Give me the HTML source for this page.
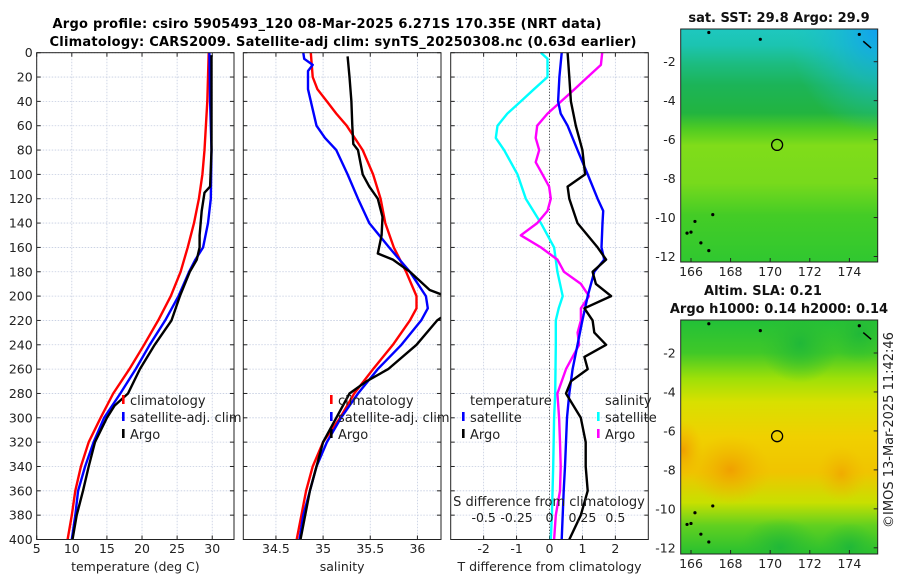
<!DOCTYPE html>
<html><head><meta charset="utf-8"><style>
html,body{margin:0;padding:0;background:#fff;}
svg{display:block;font-family:"DejaVu Sans","Liberation Sans",sans-serif;}
</style></head><body>
<svg id="fig" width="900" height="580" viewBox="0 0 900 580" xmlns="http://www.w3.org/2000/svg">
<defs>
<linearGradient id="sstg" x1="0" y1="0" x2="0" y2="1">
<stop offset="0" stop-color="#1ec8c0"/><stop offset="0.07" stop-color="#1cc4b0"/>
<stop offset="0.15" stop-color="#1cbc80"/><stop offset="0.24" stop-color="#1cb458"/>
<stop offset="0.36" stop-color="#22b440"/><stop offset="0.43" stop-color="#50cc22"/>
<stop offset="0.5" stop-color="#80dc1a"/><stop offset="0.66" stop-color="#78da1c"/>
<stop offset="0.8" stop-color="#44cc26"/><stop offset="1" stop-color="#30c830"/></linearGradient>
<radialGradient id="sstblue" cx="1" cy="0" r="0.45"><stop offset="0" stop-color="#10a0f0"/><stop offset="0.5" stop-color="#18b8d8" stop-opacity="0.6"/><stop offset="1" stop-color="#1cc4c0" stop-opacity="0"/></radialGradient>
<linearGradient id="slag" x1="0" y1="0" x2="0" y2="1">
<stop offset="0" stop-color="#22c038"/><stop offset="0.14" stop-color="#40c828"/>
<stop offset="0.25" stop-color="#9ee008"/><stop offset="0.35" stop-color="#d8e000"/>
<stop offset="0.5" stop-color="#f0d000"/><stop offset="0.65" stop-color="#f0c400"/>
<stop offset="0.78" stop-color="#c8e000"/><stop offset="0.88" stop-color="#60d020"/>
<stop offset="1" stop-color="#28c030"/></linearGradient>
<radialGradient id="orange"><stop offset="0" stop-color="#f0a000"/><stop offset="1" stop-color="#f0b800" stop-opacity="0"/></radialGradient>
<radialGradient id="greenb"><stop offset="0" stop-color="#20b838"/><stop offset="1" stop-color="#30c030" stop-opacity="0"/></radialGradient>
<clipPath id="c2"><rect x="243.3" y="52.7" width="197.7" height="486.8"/></clipPath>
<clipPath id="cm1"><rect x="680.7" y="29" width="197" height="233"/></clipPath>
<clipPath id="cm2"><rect x="680.7" y="320" width="197" height="234"/></clipPath>
</defs>
<g id="titles">
<text x="327" y="28" font-size="13" font-weight="bold" text-anchor="middle" textLength="549">Argo profile: csiro 5905493_120 08-Mar-2025 6.271S 170.35E (NRT data)</text>
<text x="343" y="46" font-size="13" font-weight="bold" text-anchor="middle" textLength="587">Climatology: CARS2009. Satellite-adj clim: synTS_20250308.nc (0.63d earlier)</text>
</g>
<g id="panels"></g>
<g id="maps"></g>
<text transform="translate(893,430) rotate(-90)" font-size="13" text-anchor="middle" fill="#222">©IMOS 13-Mar-2025 11:42:46</text>
</svg>
<script>
// ---- data ----
const depths = [0,20,40,60,80,100,120,140,160,180,200,220,240,260,280,300,320,340,360,380,400];
const tempClim = [29.5,29.4,29.3,29.1,28.9,28.6,28.1,27.4,26.5,25.5,24.1,22.3,20.3,18.2,15.9,14.1,12.4,11.3,10.5,10.0,9.4];
const tempSatDepths = [0,40,80,120,140,160,170,180,200,220,240,260,280,300,320,340,360,380,400];
const tempSat = [29.6,29.7,29.9,29.8,29.4,28.7,27.6,26.7,25.2,23.3,21.1,19.1,16.9,14.6,13.1,11.9,10.9,10.5,10.0];
const tempArgoDepths = [2,80,110,115,130,150,160,170,180,200,215,220,240,260,280,290,300,320,340,360,380,400];
const tempArgo = [29.9,29.9,29.7,28.9,28.5,28.2,28.2,27.8,26.8,25.4,24.5,24.2,21.8,19.7,18.0,16.1,15.0,13.3,12.4,11.6,10.7,10.1];
const salClimDepths = [0,20,30,40,50,60,80,100,120,140,160,180,200,210,220,240,260,280,300,320,340,360,380,400];
const salClim = [34.87,34.89,34.94,35.04,35.14,35.25,35.42,35.53,35.61,35.66,35.75,35.88,35.99,35.99,35.92,35.74,35.53,35.33,35.18,35.0,34.89,34.82,34.77,34.72];
const salSatDepths = [0,5,10,15,30,60,70,80,100,120,140,160,180,200,210,220,240,260,280,300,320,340,360,380,400];
const salSat = [34.79,34.80,34.89,34.84,34.84,34.93,35.02,35.14,35.26,35.37,35.49,35.70,35.92,36.09,36.11,36.04,35.83,35.58,35.37,35.19,35.04,34.93,34.86,34.79,34.75];
const salArgoDepths = [3,20,40,60,75,80,100,110,120,135,150,165,170,180,195,200,215,220,240,260,270,280,300,320,340,360,380,400];
const salArgo = [35.26,35.28,35.30,35.31,35.32,35.37,35.42,35.49,35.58,35.63,35.62,35.58,35.74,35.92,36.13,36.3,36.3,36.21,35.99,35.69,35.46,35.28,35.14,35.0,34.93,34.86,34.81,34.76];
const dTSatDepths = [0,20,40,50,60,80,100,120,130,140,160,170,180,200,220,240,260,280,300,320,340,360,380,400];
const dTSat = [0.37,0.3,0.26,0.34,0.55,0.85,1.16,1.46,1.63,1.61,1.58,1.66,1.36,1.16,1.0,0.85,0.7,0.6,0.53,0.5,0.47,0.43,0.4,0.37];
const dTArgoDepths = [0,20,40,60,80,100,110,120,140,160,170,180,190,200,210,220,230,240,250,260,270,280,300,320,340,360,380,400];
const dTArgo = [0.55,0.6,0.65,0.8,1.0,1.08,0.55,0.6,0.85,1.46,1.72,1.31,1.41,1.87,1.06,1.31,1.36,1.72,1.06,1.16,0.65,0.5,0.95,1.1,1.1,1.16,0.95,0.6];
const dSSatDepths = [0,5,20,30,40,50,60,70,80,100,120,140,160,180,200,210,220,240,280,300,340,380,400];
const dSSat = [-0.065,-0.015,-0.015,-0.118,-0.218,-0.32,-0.395,-0.408,-0.345,-0.243,-0.18,-0.065,0.035,0.06,0.1,0.07,0.048,0.048,0.043,0.035,0.028,0.018,0.01];
const dSArgoDepths = [0,10,20,30,40,50,60,70,80,90,100,110,120,130,140,150,160,170,180,190,200,210,220,230,240,260,280,300,320,340,360,380,400];
const dSArgo = [0.4,0.39,0.29,0.19,0.088,-0.015,-0.093,-0.105,-0.078,-0.105,-0.053,-0.003,0.01,-0.015,-0.093,-0.218,-0.065,0.06,0.11,0.238,0.3,0.238,0.238,0.213,0.225,0.125,0.06,0.073,0.08,0.085,0.08,0.048,0.035];
const depthTicks = [0,20,40,60,80,100,120,140,160,180,200,220,240,260,280,300,320,340,360,380,400];
const tempTicks = [5,10,15,20,25,30];
const salTicks = [34.5,35,35.5,36];
const dTTicks = [-2,-1,0,1,2];
const dSTickLabels = ['-0.5','-0.25','0','0.25','0.5'];
const dSTicks = [-0.5,-0.25,0,0.25,0.5];
const lonTicks = [166,168,170,172,174];
const latTicks = [-2,-4,-6,-8,-10,-12];
const argoLon = 170.35, argoLat = -6.271;

const NS='http://www.w3.org/2000/svg';
function mk(tag,attrs,parent,txt){const e=document.createElementNS(NS,tag);for(const k in attrs)e.setAttribute(k,attrs[k]);if(txt!==undefined)e.textContent=txt;parent.appendChild(e);return e;}
const top0=52.7, bot0=539.5;
const yD = d => top0 + d/400*(bot0-top0);
const panelsG=document.getElementById('panels');

function panel(name,x0,x1,vmin,vmax,ticks,tickLabels,xlabel,showY){
  const g=mk('g',{},panelsG);
  
  
  const sx=v=>x0+(v-vmin)/(vmax-vmin)*(x1-x0);
  depthTicks.forEach(d=>{
    const l=mk('line',{x1:x0,x2:x1,y1:yD(d),y2:yD(d),stroke:'#c4cce0','stroke-width':0.8,'stroke-dasharray':'1.5,1.5'},g);
    
    
    mk('line',{x1:x0,x2:x0+4,y1:yD(d),y2:yD(d),stroke:'#222'},g);
    mk('line',{x1:x1-4,x2:x1,y1:yD(d),y2:yD(d),stroke:'#222'},g);
    if(showY){const t=mk('text',{x:x0-4,y:yD(d)+4.5,'font-size':12.5,'text-anchor':'end',fill:'#222'},g,String(d));
      
      }
  });
  ticks.forEach((v,i)=>{
    const l=mk('line',{x1:sx(v),x2:sx(v),y1:top0,y2:bot0,stroke:'#c4cce0','stroke-width':0.8,'stroke-dasharray':'1.5,1.5'},g);
    
    
    mk('line',{x1:sx(v),x2:sx(v),y1:bot0-4,y2:bot0,stroke:'#222'},g);
    mk('line',{x1:sx(v),x2:sx(v),y1:top0,y2:top0+4,stroke:'#222'},g);
    const t=mk('text',{x:sx(v),y:553,'font-size':12.5,'text-anchor':'middle',fill:'#222'},g,tickLabels[i]);
    
    
  });
  const xl=mk('text',{x:(x0+x1)/2,y:571,'font-size':12.5,'text-anchor':'middle',fill:'#222'},g,xlabel);
  
  
  return {g,sx};
}
function line(p,ds,vs,color,name,scale){
  const pts=ds.map((d,i)=>p.sx(vs[i]*(scale||1)).toFixed(1)+','+yD(d).toFixed(1)).join(' ');
  const pl=mk('polyline',{points:pts,fill:'none',stroke:color,'stroke-width':2.4,'stroke-linejoin':'round'},p.g);
  
  
  return pl;
}
function frame(p,x0,x1){mk('rect',{x:x0,y:top0,width:x1-x0,height:bot0-top0,fill:'none',stroke:'#222','stroke-width':1},p.g);}
function legendEntry(g,x,y,color,label){
  const e=mk('g',{},g);
  
  
  mk('rect',{x:x,y:y-10,width:2.6,height:9,fill:color},e);
  mk('text',{x:x+8,y:y,'font-size':13,fill:'#222'},e,label);
}

// panel 1: temperature
const p1=panel('temperature-panel',36.7,234,5,33.1,tempTicks,tempTicks.map(String),'temperature (deg C)',true);
line(p1,depths,tempClim,'#f00','climatology-temp-line');
line(p1,tempSatDepths,tempSat,'#00f','satellite-temp-line');
line(p1,tempArgoDepths,tempArgo,'#000','argo-temp-line');
frame(p1,36.7,234);
legendEntry(p1.g,122,405,'#f00','climatology');
legendEntry(p1.g,122,422,'#00f','satellite-adj. clim');
legendEntry(p1.g,122,439,'#000','Argo');

// panel 2: salinity
const p2=panel('salinity-panel',243.3,441,34.154,36.25,salTicks,salTicks.map(String),'salinity',false);
line(p2,salClimDepths,salClim,'#f00','climatology-sal-line');
line(p2,salSatDepths,salSat,'#00f','satellite-sal-line');
line(p2,salArgoDepths,salArgo,'#000','argo-sal-line').setAttribute('clip-path','url(#c2)');
frame(p2,243.3,441);
legendEntry(p2.g,330,405,'#f00','climatology');
legendEntry(p2.g,330,422,'#00f','satellite-adj. clim');
legendEntry(p2.g,330,439,'#000','Argo');

// panel 3: differences
const p3=panel('difference-panel',450.7,648.3,-3,3,dTTicks,dTTicks.map(String),'T difference from climatology',false);
mk('line',{x1:p3.sx(0),x2:p3.sx(0),y1:top0,y2:bot0,stroke:'#333','stroke-width':1,'stroke-dasharray':'1,2'},p3.g);
line(p3,dSSatDepths,dSSat,'#00ffff','satellite-sal-diff-line',4);
line(p3,dSArgoDepths,dSArgo,'#ff00ff','argo-sal-diff-line',4);
line(p3,dTSatDepths,dTSat,'#00f','satellite-temp-diff-line');
line(p3,dTArgoDepths,dTArgo,'#000','argo-temp-diff-line');
frame(p3,450.7,648.3);
(function(){
  const g=p3.g;
  let t=mk('text',{x:470,y:405,'font-size':13,fill:'#222'},g,'temperature');
  
  
  t=mk('text',{x:605,y:405,'font-size':13,fill:'#222'},g,'salinity');
  
  
  legendEntry(g,462,422,'#00f','satellite');
  legendEntry(g,462,439,'#000','Argo');
  legendEntry(g,597,422,'#00ffff','satellite');
  legendEntry(g,597,439,'#ff00ff','Argo');
  t=mk('text',{x:549,y:506,'font-size':13,'text-anchor':'middle',fill:'#222'},g,'S difference from climatology');
  
  
  dSTicks.forEach((v,i)=>{
    const s=mk('text',{x:p3.sx(v*4),y:522,'font-size':12.5,'text-anchor':'middle',fill:'#222'},g,dSTickLabels[i]);
    
    
  });
})();

// maps
const mapsG=document.getElementById('maps');
const mx0=680.7,mx1=877.7,lon0=165.48,lon1=175.43;
const sxL=l=>mx0+(l-lon0)/(lon1-lon0)*(mx1-mx0);
function map(name,y0,y1,lat2y,fill,clip,extras,titles){
  const g=mk('g',{},mapsG);
  
  
  const syL=lat=>lat2y+(-2-lat)*19.48;
  const inner=mk('g',{'clip-path':'url(#'+clip+')'},g);
  mk('rect',{x:mx0,y:y0,width:mx1-mx0,height:y1-y0,fill:fill},inner);
  extras(inner,syL);
  mk('circle',{cx:sxL(argoLon),cy:syL(argoLat),r:5.5,fill:'none',stroke:'#000','stroke-width':1.3},g);
  [[165.8,-10.8],[166.0,-10.75],[166.5,-11.3],[166.9,-11.7],[167.1,-9.85],[166.2,-10.2],[166.9,-0.5],[169.5,-0.85],[174.5,-0.6]].forEach(p=>mk('circle',{cx:sxL(p[0]),cy:syL(p[1]),r:1.6,fill:'#000'},g));
  mk('line',{x1:sxL(174.7),y1:syL(-0.95),x2:sxL(175.1),y2:syL(-1.3),stroke:'#000','stroke-width':1.5},g);
  mk('rect',{x:mx0,y:y0,width:mx1-mx0,height:y1-y0,fill:'none',stroke:'#222'},g);
  latTicks.forEach(lt=>{
    mk('line',{x1:mx1-4,x2:mx1,y1:syL(lt),y2:syL(lt),stroke:'#222'},g);
    const t=mk('text',{x:mx0-5,y:syL(lt)+4.5,'font-size':12.5,'text-anchor':'end',fill:'#222'},g,String(lt));
    
    
  });
  lonTicks.forEach(ln=>{
    mk('line',{x1:sxL(ln),x2:sxL(ln),y1:y1-4,y2:y1,stroke:'#222'},g);
    const t=mk('text',{x:sxL(ln),y:y1+14,'font-size':12.5,'text-anchor':'middle',fill:'#222'},g,String(ln));
    
    
  });
  titles.forEach(tt=>{
    const t=mk('text',{x:tt[0],y:tt[1],'font-size':13,'font-weight':'bold','text-anchor':'middle',fill:'#111'},g,tt[2]);
    
    
  });
}
map('sst-map',29,262,61.7,'url(#sstg)','cm1',(g,sy)=>{
  mk('rect',{x:mx0,y:29,width:mx1-mx0,height:233,fill:'url(#sstblue)'},g);
},[[779,22,'sat. SST: 29.8 Argo: 29.9']]);
map('sla-map',320,554,353,'url(#slag)','cm2',(g,sy)=>{
  mk('ellipse',{cx:sxL(168),cy:sy(-8),rx:40,ry:35,fill:'url(#orange)'},g);
  mk('ellipse',{cx:sxL(165.6),cy:sy(-7),rx:20,ry:30,fill:'url(#orange)'},g);
  mk('ellipse',{cx:sxL(173.6),cy:sy(-8.2),rx:25,ry:28,fill:'url(#orange)','opacity':0.7},g);
  mk('ellipse',{cx:sxL(171.5),cy:sy(-1.5),rx:40,ry:40,fill:'url(#greenb)'},g);
  mk('ellipse',{cx:sxL(174.5),cy:sy(-1),rx:30,ry:30,fill:'url(#greenb)'},g);
  mk('ellipse',{cx:sxL(170.5),cy:sy(-12),rx:40,ry:30,fill:'url(#greenb)'},g);
  mk('ellipse',{cx:sxL(174),cy:sy(-12),rx:30,ry:25,fill:'url(#greenb)'},g);
},[[763,295,'Altim. SLA: 0.21'],[779,313,'Argo h1000: 0.14 h2000: 0.14']]);
</script>
</body></html>
